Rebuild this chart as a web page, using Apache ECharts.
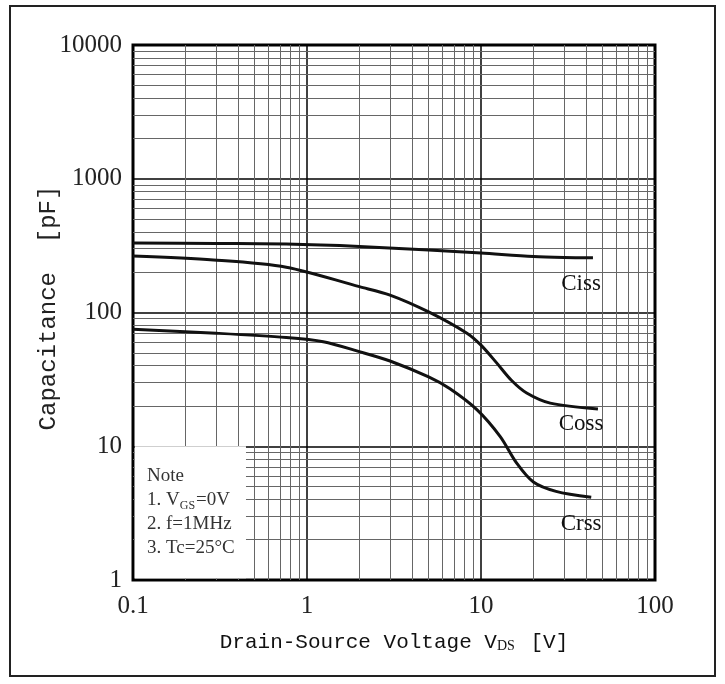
<!DOCTYPE html>
<html>
<head>
<meta charset="utf-8">
<script src="https://cdn.jsdelivr.net/npm/echarts@6/dist/echarts.min.js"></script>
<style>
  html, body { margin: 0; padding: 0; background: #fff; }
  #chart { width: 725px; height: 684px; }
</style>
</head>
<body>
<div id="chart"></div>
<script>
// curve values (V, pF)
const cissV = [0.1, 0.3, 0.76, 2, 5, 10, 20, 30, 44];
const cissC = [331, 328, 325, 312, 293, 278, 262, 258, 257];

const cossV = [0.1, 0.29, 0.76, 2, 3, 5, 8.3, 10, 12.3, 15, 18.3, 25, 47];
const cossC = [264, 247, 218, 156, 135, 101, 70, 57, 42, 31, 25, 21, 19];

const crssV = [0.1, 0.3, 0.76, 1.24, 2, 3, 5, 6.6, 9.5, 12.9, 16, 20, 27, 43];
const crssC = [75, 70, 65, 60.5, 51, 43.4, 33, 27, 18.7, 11.8, 7.5, 5.4, 4.6, 4.15];

const curveNames = ['Ciss', 'Coss', 'Crss'];
const labelPos = [[37.6, 163], [37.6, 14.7], [37.6, 2.62]];

const yTitle = 'Capacitance  [pF]';
const noteLines = ['Note', '1. V{s|GS}=0V', '2. f=1MHz', '3. Tc=25°C'];

const chart = echarts.init(document.getElementById('chart'));

// minor log grid lines (2..9 in each decade)
const minorX = [];
const minorY = [];
[0.1, 1, 10].forEach(d => { for (let k = 2; k <= 9; k++) minorX.push({ xAxis: +(d * k).toPrecision(3) }); });
[1, 10, 100, 1000].forEach(d => { for (let k = 2; k <= 9; k++) minorY.push({ yAxis: d * k }); });

const pairs = (xs, ys) => xs.map((x, i) => [x, ys[i]]);

const curveSeries = [[cissV, cissC], [cossV, cossC], [crssV, crssC]].map((c, i) => ({
  name: curveNames[i],
  type: 'line',
  smooth: 0.3,
  symbol: 'none',
  z: 10,
  lineStyle: { color: '#111', width: 3 },
  data: pairs(c[0], c[1]),
  markPoint: {
    symbol: 'circle',
    symbolSize: 0,
    label: {
      show: true,
      formatter: curveNames[i],
      color: '#111',
      fontFamily: 'Liberation Serif',
      fontSize: 23
    },
    data: [{ coord: labelPos[i] }]
  }
}));

const option = {
  animation: false,
  backgroundColor: '#fff',
  grid: {
    left: 133, right: 70, top: 45, bottom: 104,
    show: true, borderColor: '#000', borderWidth: 3, backgroundColor: 'transparent'
  },
  xAxis: {
    type: 'log', logBase: 10, min: 0.1, max: 100,
    name: 'Drain-Source Voltage V{s|DS} [V]',
    nameLocation: 'middle', nameGap: 52,
    nameTextStyle: {
      fontFamily: 'Liberation Mono', fontSize: 21, color: '#111',
      rich: { s: { fontFamily: 'Liberation Serif', fontSize: 14, color: '#111', verticalAlign: 'bottom', padding: [6, 3, 0, 0] } }
    },
    axisLine: { show: false },
    axisTick: { show: false },
    axisLabel: {
      fontFamily: 'Liberation Serif', fontSize: 25, color: '#222', margin: 14,
      formatter: v => (v < 1 ? v.toFixed(1) : String(Math.round(v)))
    },
    splitLine: { show: true, lineStyle: { color: '#000', width: 1.5 } }
  },
  yAxis: {
    type: 'log', logBase: 10, min: 1, max: 10000,
    axisLine: { show: false },
    axisTick: { show: false },
    axisLabel: {
      fontFamily: 'Liberation Serif', fontSize: 25, color: '#222', margin: 11,
      formatter: v => String(Math.round(v))
    },
    splitLine: { show: true, lineStyle: { color: '#000', width: 1.5 } }
  },
  series: [
    {
      type: 'line',
      data: [],
      silent: true,
      markLine: {
        silent: true,
        z: 3,
        symbol: 'none',
        label: { show: false },
        lineStyle: { color: '#666', width: 1, type: 'solid' },
        data: minorX.concat(minorY)
      }
    },
    {
      type: 'line',
      data: [],
      silent: true,
      markArea: {
        silent: true,
        z: 6,
        itemStyle: { color: '#fff' },
        data: [[{ coord: [0.1025, 1.03] }, { coord: [0.446, 10] }]]
      }
    }
  ].concat(curveSeries),
  graphic: [
    {
      type: 'rect',
      shape: { x: 10, y: 6, width: 705, height: 670 },
      style: { fill: 'none', stroke: '#222', lineWidth: 2 },
      z: 0
    },
    {
      type: 'text',
      x: 49, y: 308,
      rotation: Math.PI / 2,
      style: {
        text: yTitle,
        fontFamily: 'Liberation Mono', fontSize: 24, fill: '#222',
        align: 'center', verticalAlign: 'middle'
      }
    },
    {
      type: 'text',
      left: 147, top: 464,
      z: 20,
      style: {
        text: noteLines.join('\n'),
        fontFamily: 'Liberation Serif', fontSize: 19, lineHeight: 24, fill: '#333',
        rich: { s: { fontFamily: 'Liberation Serif', fontSize: 12, fill: '#333', verticalAlign: 'bottom', padding: [5, 1, 0, 0] } }
      }
    }
  ]
};

chart.setOption(option);
</script>
</body>
</html>
